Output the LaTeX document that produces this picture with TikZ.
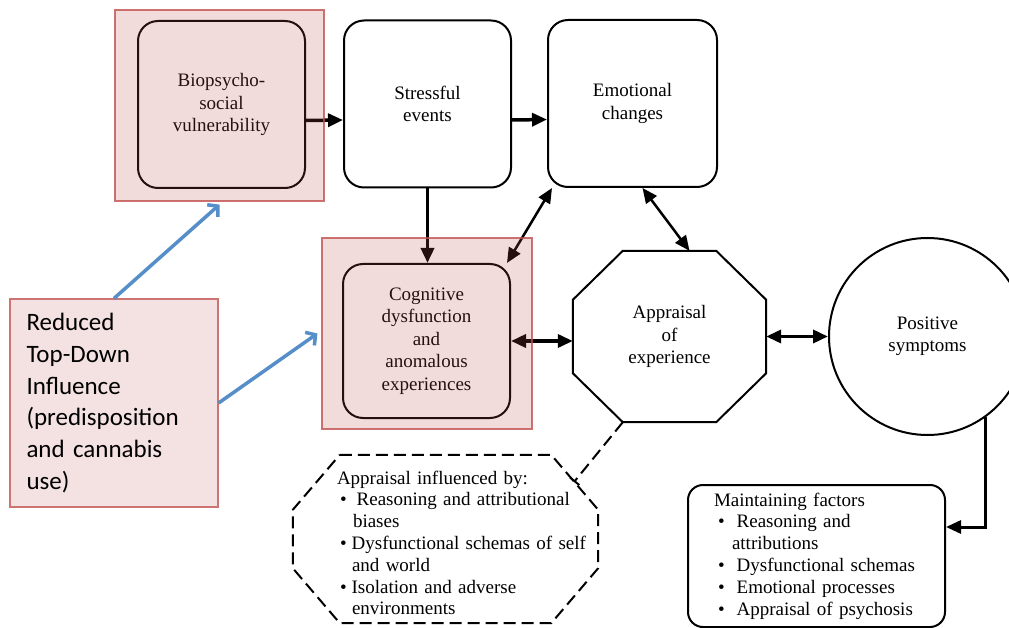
\documentclass[tikz,border=0pt]{standalone}
\usepackage{fontspec}
\setmainfont{Liberation Serif}
\newfontfamily\calibri{Carlito}
\usetikzlibrary{arrows.meta}

\definecolor{hlred}{RGB}{192,80,77}
\definecolor{hlblue}{RGB}{85,142,200}

\newcommand{\boxfont}{\fontsize{19}{22.5}\selectfont}
\newcommand{\listfont}{\fontsize{19}{21.8}\selectfont}

% octagon drawn on the corners of a node
\newcommand{\octframe}[4][]{%
  \draw[#1] ([xshift=#3]#2.north west) -- ([xshift=-#3]#2.north east)
    -- ([yshift=-#4]#2.north east) -- ([yshift=#4]#2.south east)
    -- ([xshift=-#3]#2.south east) -- ([xshift=#3]#2.south west)
    -- ([yshift=#4]#2.south west) -- ([yshift=-#4]#2.north west) -- cycle;}

\begin{document}
\begin{tikzpicture}[x=1pt,y=-1pt]
	\useasboundingbox (0,0) rectangle (1009,628);
	\clip (0,0) rectangle (1009,628);

	\begin{scope}[every node/.style={draw,line width=2pt,rounded corners=20pt,align=center,
		font=\boxfont,minimum width=167pt,minimum height=167pt,inner sep=0pt}]
		\node (bio) at (221.5,104.5) {Biopsycho-\\social\\vulnerability};
		\node (stress) at (427.5,104) {Stressful\\events};
		\node (emo) at (632.5,103.5) [minimum width=169pt] {Emotional\\changes};
		\node (cog) at (426.5,341) [minimum height=154pt] {Cognitive\\dysfunction\\and\\anomalous\\experiences};
	\end{scope}

	\node (app) at (669.5,336.5) [minimum width=193pt,minimum height=171pt,align=center,font=\boxfont] {Appraisal\\of\\experience};
	\octframe[line width=2pt]{app}{50}{49}
	\node (pos) at (927.5,336.5) [circle,draw,line width=2pt,minimum size=197pt,inner sep=0pt,align=center,font=\boxfont] {Positive\\symptoms};

	\node (inf) at (445.5,539) [minimum width=305pt,minimum height=168pt] {};
	\octframe[line width=2pt,dash pattern=on 12pt off 6pt]{inf}{47}{55}
	\node (infText) at (462,543) [text width=250pt,align=left,inner sep=0pt,font=\listfont] {Appraisal influenced by:\\
		\hspace*{3pt}\textbullet\hspace{10pt}Reasoning and attributional\\
		\hspace*{16pt}biases\\
		\hspace*{3pt}\textbullet\hspace{5pt}Dysfunctional schemas of self\\
		\hspace*{15pt}and world\\
		\hspace*{3pt}\textbullet\hspace{5pt}Isolation and adverse\\
		\hspace*{15pt}environments};

	\node (mnt) at (816.5,556) [draw,line width=2pt,rounded corners=15pt,minimum width=257pt,minimum height=142pt,
		text width=205pt,align=left,font=\listfont] {Maintaining factors\\
		\hspace*{4pt}\textbullet\hspace{12pt}Reasoning and\\
		\hspace*{18pt}attributions\\
		\hspace*{4pt}\textbullet\hspace{12pt}Dysfunctional schemas\\
		\hspace*{4pt}\textbullet\hspace{12pt}Emotional processes\\
		\hspace*{4pt}\textbullet\hspace{12pt}Appraisal of psychosis};

	\begin{scope}[>={Triangle[length=15pt,width=13pt]},
		every edge/.style={draw,line width=3.5pt}]
		\path [->] ([yshift=-16]bio.east) edge ([yshift=-16]stress.west);
		\path [->] ([yshift=-16]stress.east) edge ([yshift=-16]emo.west);
		\path [->] (stress.south) edge (stress.south |- cog.north);
		\path [<->] ([xshift=-4]cog.north east) edge[line width=2.5pt] ([xshift=5]emo.south west);
		\path [<->] ([xshift=10]emo.south) edge[line width=2.5pt] ([xshift=20]app.north);
		\path [<->] (cog.east) edge (cog.east -| app.west);
		\path [<->] (app.east) edge (pos.west);
		\draw [->,line width=3pt] (pos.-54) |- ([yshift=29]mnt.east);
	\end{scope}

	\coordinate (infTip) at (574,482);
	\draw [line width=2pt,dash pattern=on 12pt off 6pt,-{Bar[width=12pt]}] ([xshift=50]app.south west) -- (infTip);

	\begin{scope}[every node/.style={draw=hlred,draw opacity=0.8,line width=1.2pt,fill=hlred,fill opacity=0.2,inner sep=0pt}]
		\node (hlA) at (219.5,105.5) [minimum width=209pt,minimum height=191pt] {};
		\node (hlB) at (427,333.5) [minimum width=210pt,minimum height=191pt] {};
	\end{scope}

	\node (red) at (114,403) [draw=hlred!80,line width=1.2pt,fill=hlred!17,minimum width=208pt,minimum height=208pt,
		text width=175pt,align=left,font=\calibri\fontsize{25}{31.8}\selectfont]
		{Reduced\\Top-Down\\Influence\\(predisposition\\and cannabis\\use)};

	\begin{scope}[>={Straight Barb[length=7pt,width=16pt]},
		every edge/.style={draw=hlblue,line width=3.5pt}]
		\path [->] (red.north) edge ([yshift=-3]hlA.south);
		\path [->] (red.east) edge ([xshift=-4]hlB.west);
	\end{scope}
\end{tikzpicture}
\end{document}
